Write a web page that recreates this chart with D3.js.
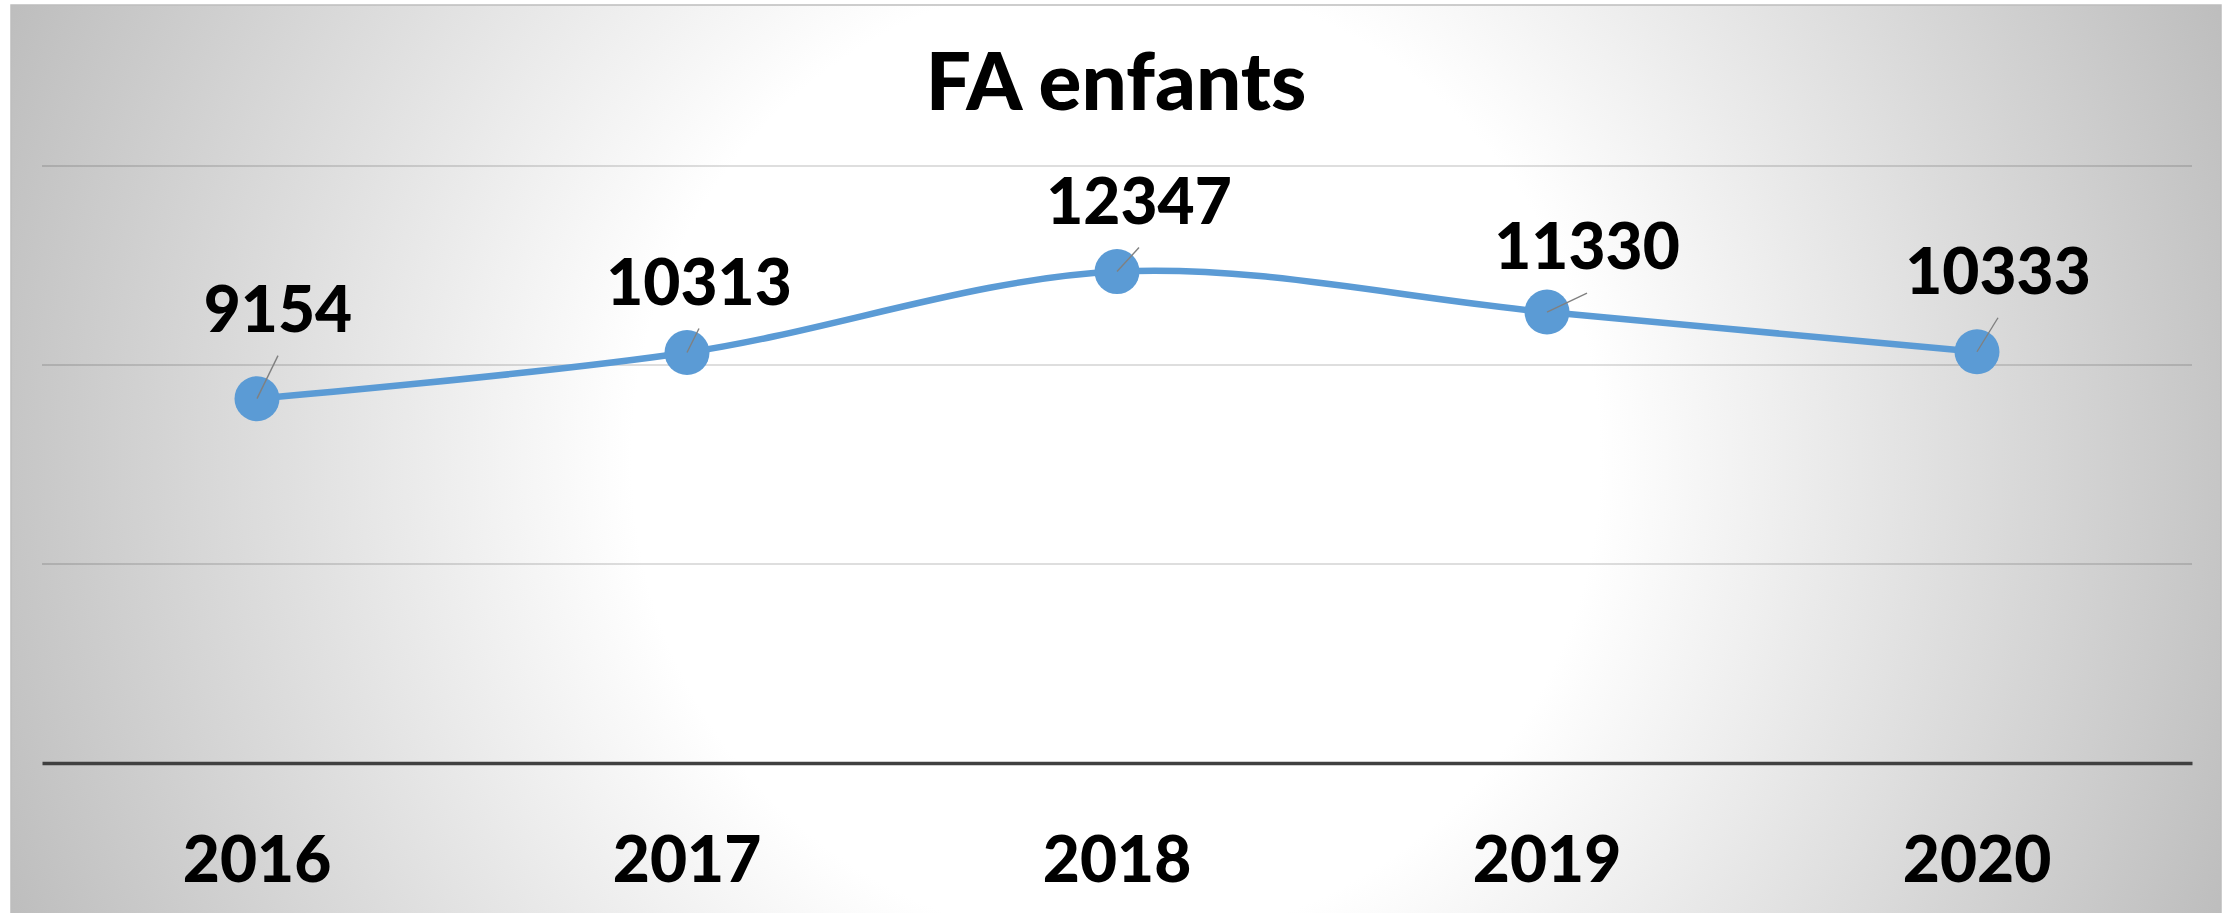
<!DOCTYPE html>
<html>
<head>
<meta charset="utf-8">
<script src="https://cdn.jsdelivr.net/npm/d3@7"></script>
<style>
  body { margin: 0; background: #fff; }
  svg { display: block; }
  text { font-family: Lato, "Open Sans", sans-serif; font-weight: 900; fill: #000; }
</style>
</head>
<body>
<svg width="2226" height="913"></svg>
<script>
// data
var years = ['2016', '2017', '2018', '2019', '2020'];
var values = [9154, 10313, 12347, 11330, 10333];
var yTicks = [5000, 10000, 15000];
var title = 'FA enfants';

// label nudges (dx, dy of baseline from the marker), as placed in the original
var labelShift = [[21, -67], [12, -48], [22, -48], [40, -43], [21, -58]];

var svg = d3.select('svg');

var defs = svg.append('defs');
var grad = defs.append('radialGradient')
  .attr('id', 'bg')
  .attr('gradientUnits', 'userSpaceOnUse')
  .attr('cx', 1116).attr('cy', 459).attr('r', 1210);
grad.append('stop').attr('offset', 0).attr('stop-color', '#ffffff');
grad.append('stop').attr('offset', 0.4).attr('stop-color', '#ffffff');
grad.append('stop').attr('offset', 1).attr('stop-color', '#bcbcbc');

svg.append('rect')
  .attr('x', 11).attr('y', 5)
  .attr('width', 2210).attr('height', 920)
  .attr('fill', 'url(#bg)')
  .attr('stroke', '#bdbdbd')
  .attr('stroke-width', 1.5);

var x = d3.scaleBand().domain(years).range([42, 2192]);
var y = d3.scaleLinear().domain([0, 15000]).range([763, 166]);

function cx(i) { return x(years[i]) + x.bandwidth() / 2; }

// gridlines
svg.append('g')
  .selectAll('line.grid')
  .data(yTicks)
  .enter()
  .append('line')
  .classed('grid', true)
  .attr('x1', 42).attr('x2', 2192)
  .attr('y1', function(d) { return y(d); })
  .attr('y2', function(d) { return y(d); })
  .attr('stroke', '#000')
  .attr('stroke-opacity', 0.13)
  .attr('stroke-width', 2);

// category axis
var xAxis = svg.append('g')
  .attr('transform', 'translate(0,' + y(0) + ')')
  .call(d3.axisBottom(x).tickSize(0).tickPadding(0));
xAxis.select('.domain')
  .attr('stroke', '#404040')
  .attr('stroke-width', 3.3);
xAxis.selectAll('.tick text')
  .attr('y', 119)
  .attr('dy', 0)
  .attr('font-size', 64)
  .attr('fill', '#000');

// title
svg.append('text')
  .attr('x', 1116).attr('y', 110)
  .attr('text-anchor', 'middle')
  .attr('font-size', 80)
  .text(title);

// line
var line = d3.line()
  .x(function(d, i) { return cx(i); })
  .y(function(d) { return y(d); })
  .curve(d3.curveCardinal.tension(0));

svg.append('path')
  .datum(values)
  .attr('d', line)
  .attr('fill', 'none')
  .attr('stroke', '#5b9bd5')
  .attr('stroke-width', 6.5)
  .attr('stroke-linejoin', 'round');

svg.selectAll('circle.marker')
  .data(values)
  .enter()
  .append('circle')
  .classed('marker', true)
  .attr('cx', function(d, i) { return cx(i); })
  .attr('cy', function(d) { return y(d); })
  .attr('r', 22.5)
  .attr('fill', '#5b9bd5');

// leader lines
svg.selectAll('line.leader')
  .data(values)
  .enter()
  .append('line')
  .classed('leader', true)
  .attr('x1', function(d, i) { return cx(i); })
  .attr('y1', function(d) { return y(d); })
  .attr('x2', function(d, i) { return cx(i) + labelShift[i][0]; })
  .attr('y2', function(d, i) { return y(d) + labelShift[i][1] + 24; })
  .attr('stroke', '#808080')
  .attr('stroke-width', 1.4);

// data labels
svg.selectAll('text.label')
  .data(values)
  .enter()
  .append('text')
  .classed('label', true)
  .attr('x', function(d, i) { return cx(i) + labelShift[i][0]; })
  .attr('y', function(d, i) { return y(d) + labelShift[i][1]; })
  .attr('text-anchor', 'middle')
  .attr('font-size', 64)
  .text(function(d) { return d; });
</script>
</body>
</html>
